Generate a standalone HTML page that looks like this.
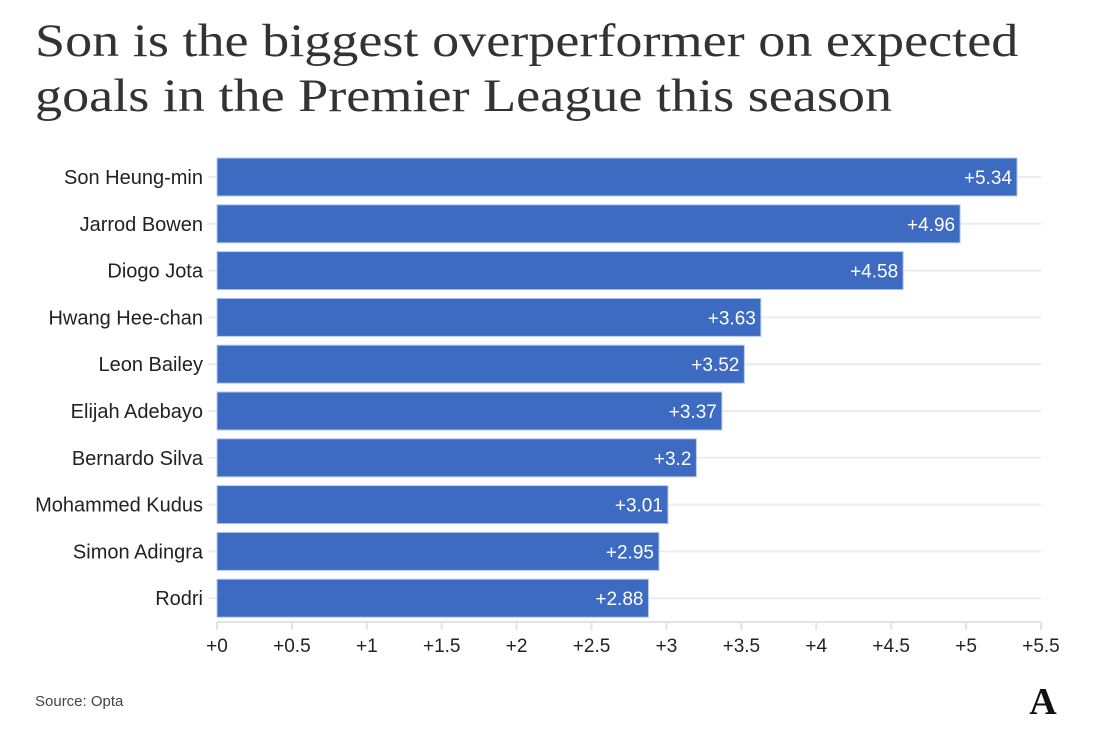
<!DOCTYPE html>
<html><head><meta charset="utf-8"><style>
body{margin:0;background:#fff;width:1107px;height:746px;overflow:hidden;font-family:"Liberation Sans",sans-serif}
h1{position:absolute;left:35px;top:14px;margin:0;font-family:"Liberation Serif",serif;font-weight:normal;font-size:47px;line-height:55px;color:#333;white-space:nowrap;transform:scaleX(1.152);transform-origin:left top}
</style></head><body>
<h1>Son is the biggest overperformer on expected<br>goals in the Premier League this season</h1>
<svg id="c" width="1107" height="746" style="position:absolute;left:0;top:0"></svg>
<script>
const names=["Son Heung-min","Jarrod Bowen","Diogo Jota","Hwang Hee-chan","Leon Bailey","Elijah Adebayo","Bernardo Silva","Mohammed Kudus","Simon Adingra","Rodri"];
const values=[5.34,4.96,4.58,3.63,3.52,3.37,3.2,3.01,2.95,2.88];
const labels=["+5.34","+4.96","+4.58","+3.63","+3.52","+3.37","+3.2","+3.01","+2.95","+2.88"];
const ticks=[0,0.5,1,1.5,2,2.5,3,3.5,4,4.5,5,5.5];
const tickLabels=["+0","+0.5","+1","+1.5","+2","+2.5","+3","+3.5","+4","+4.5","+5","+5.5"];
const svg=document.getElementById('c');
const NS="http://www.w3.org/2000/svg";
const x=v=>217+v*(824/5.5);
const yc=i=>177+i*46.8;
function mk(t,a,txt){const e=document.createElementNS(NS,t);for(const k in a)e.setAttribute(k,a[k]);if(txt!==undefined)e.textContent=txt;svg.appendChild(e);return e;}
names.forEach((n,i)=>{
 const g=mk('line',{x1:208,x2:1041,y1:yc(i),y2:yc(i),stroke:'#ececec','stroke-width':2});
 
 
 const b=mk('rect',{x:x(0),y:yc(i)-19,width:x(values[i])-x(0),height:38,fill:'#3d6bc1',stroke:'#b5c8ec','stroke-width':1});
 
 
 const v=mk('text',{x:x(values[i])-5,y:yc(i)+7,'text-anchor':'end',fill:'#fff','font-size':19},labels[i]);
 
 
 const l=mk('text',{x:203,y:yc(i)+7,'text-anchor':'end',fill:'#222','font-size':20},n);
 
 
});
const ax=mk('line',{x1:217,x2:1041,y1:622,y2:622,stroke:'#e3e3e3','stroke-width':2});


ticks.forEach((t,i)=>{
 const tk=mk('line',{x1:x(t),x2:x(t),y1:622,y2:630,stroke:'#e3e3e3','stroke-width':2});
 
 
 const tl=mk('text',{x:x(t),y:652,'text-anchor':'middle',fill:'#222','font-size':19},tickLabels[i]);
 
 
});
const s=mk('text',{x:35,y:706,fill:'#444','font-size':15},'Source: Opta');


const lg=mk('text',{x:1043,y:714,'text-anchor':'middle',fill:'#111','font-size':38,'font-family':'Liberation Serif, serif','font-weight':'bold'},'A');


</script>
</body></html>
